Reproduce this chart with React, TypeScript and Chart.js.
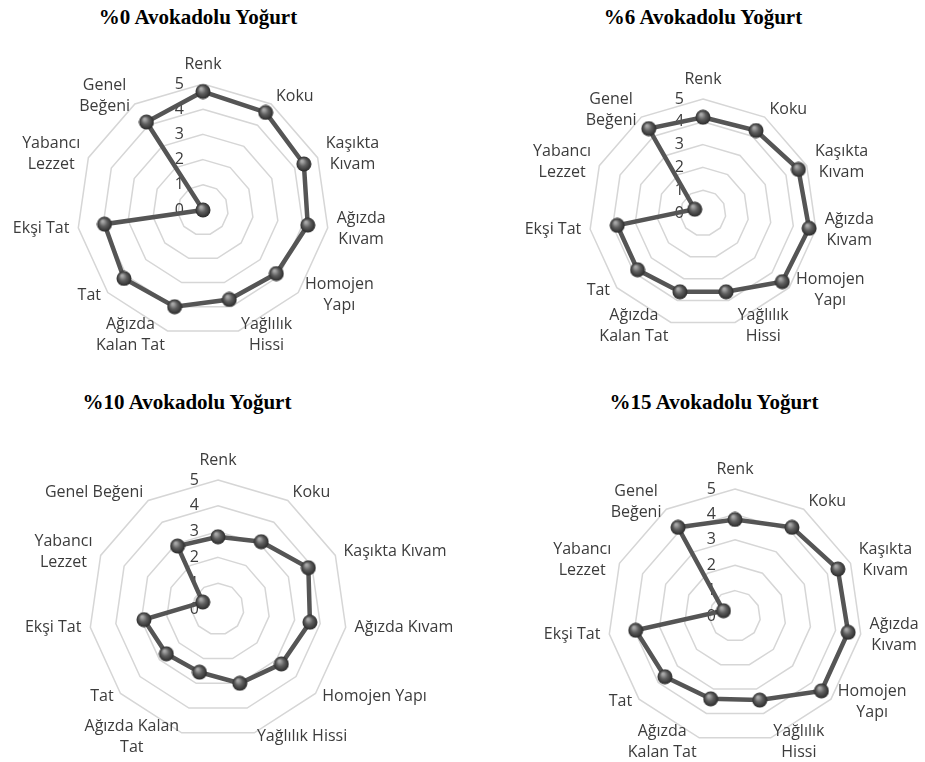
import { useEffect, useRef } from 'react';
import { Chart, registerables } from 'chart.js';

Chart.register(...registerables);

const criteria = [
  'Renk',
  'Koku',
  'Kaşıkta Kıvam',
  'Ağızda Kıvam',
  'Homojen Yapı',
  'Yağlılık Hissi',
  'Ağızda Kalan Tat',
  'Tat',
  'Ekşi Tat',
  'Yabancı Lezzet',
  'Genel Beğeni',
];

// how the axis names wrap in each panel
const wrappedNames = [
  ['Renk'],
  ['Koku'],
  ['Kaşıkta', 'Kıvam'],
  ['Ağızda', 'Kıvam'],
  ['Homojen', 'Yapı'],
  ['Yağlılık', 'Hissi'],
  ['Ağızda', 'Kalan Tat'],
  ['Tat'],
  ['Ekşi Tat'],
  ['Yabancı', 'Lezzet'],
  ['Genel', 'Beğeni'],
];
const wideNames = [
  ['Renk'],
  ['Koku'],
  ['Kaşıkta Kıvam'],
  ['Ağızda Kıvam'],
  ['Homojen Yapı'],
  ['Yağlılık Hissi'],
  ['Ağızda Kalan', 'Tat'],
  ['Tat'],
  ['Ekşi Tat'],
  ['Yabancı', 'Lezzet'],
  ['Genel Beğeni'],
];

const scoreTicks = [0, 1, 2, 3, 4, 5];

const avocado0 = [4.7, 4.6, 4.4, 4.2, 3.85, 3.7, 4.0, 4.15, 3.95, 0, 4.15];
const avocado6 = [4.2, 4.3, 4.6, 4.7, 4.6, 3.6, 3.6, 3.8, 3.8, 0.4, 4.4];
const avocado10 = [2.8, 3.1, 3.85, 3.6, 3.25, 3.0, 2.55, 2.65, 2.9, 0.65, 2.9];
const avocado15 = [3.8, 4.15, 4.45, 4.5, 4.5, 3.45, 3.4, 3.65, 3.95, 0.5, 4.15];

const TEXT = '#3c3c3c';
const FONT = '16px "Open Sans"';
const LINE_H = 21;

function makeSphere(size: number) {
  const c = document.createElement('canvas');
  c.width = size;
  c.height = size;
  const g = c.getContext('2d')!;
  const r = size / 2 - 0.5;
  const grad = g.createRadialGradient(size * 0.38, size * 0.32, 1, size / 2, size / 2, r);
  grad.addColorStop(0, '#a8a8a8');
  grad.addColorStop(0.45, '#5e5e5e');
  grad.addColorStop(1, '#2a2a2a');
  g.fillStyle = grad;
  g.beginPath();
  g.arc(size / 2, size / 2, r, 0, Math.PI * 2);
  g.fill();
  return c;
}

interface PanelProps {
  values: number[];
  names: string[][];
  box: { x: number; y: number; w: number; h: number };
  cx: number;
  cy: number;
  r: number;
}

function RadarPanel({ values, names, box, cx, cy, r }: PanelProps) {
  const canvasRef = useRef<HTMLCanvasElement>(null);

  useEffect(() => {
    if (!canvasRef.current) return;
    const sphere = makeSphere(16);

    const axisText = {
      id: 'axisText',
      beforeDatasetsDraw(chart: any) {
        const scale = chart.scales.r;
        const ctx = chart.ctx;
        ctx.save();
        ctx.font = FONT;
        ctx.fillStyle = TEXT;
        ctx.textAlign = 'right';
        ctx.textBaseline = 'middle';
        scoreTicks.forEach((t) => {
          const y = scale.yCenter - scale.getDistanceFromCenterForValue(t);
          ctx.fillText(String(t), scale.xCenter - 19, y);
        });
        ctx.restore();
      },
      afterDraw(chart: any) {
        const scale = chart.scales.r;
        const ctx = chart.ctx;
        ctx.save();
        ctx.font = FONT;
        ctx.fillStyle = TEXT;
        ctx.textAlign = 'center';
        ctx.textBaseline = 'middle';
        names.forEach((lines, i) => {
          const deg = Math.round((scale.getIndexAngle(i) * 180) / Math.PI) % 360;
          const lower = deg > 90 && deg < 270;
          const px = scale.getPointPosition(i, scale.drawingArea + 9).x;
          const py = scale.getPointPosition(i, scale.drawingArea + (lower ? 4 : 9)).y;
          const w = Math.max(...lines.map((l) => ctx.measureText(l).width));
          const h = lines.length * LINE_H;
          let left = px - w / 2;
          if (deg > 0 && deg < 180) left = px;
          else if (deg > 180) left = px - w;
          let top = py - h / 2;
          if (deg === 0) top = py - h;
          else if (deg === 180) top = py;
          lines.forEach((l, k) => ctx.fillText(l, left + w / 2, top + LINE_H * (k + 0.5)));
        });
        ctx.restore();
      },
    };

    const chart = new Chart(canvasRef.current, {
      type: 'radar',
      data: {
        labels: criteria,
        datasets: [
          {
            data: values,
            borderColor: '#555555',
            borderWidth: 4.5,
            pointStyle: sphere as any,
            pointRadius: 8,
            fill: false,
            tension: 0,
          },
        ],
      },
      options: {
        responsive: false,
        animation: false,
        layout: {
          padding: {
            left: cx - r - box.x,
            top: cy - r - box.y,
            right: box.x + box.w - cx - r,
            bottom: box.y + box.h - cy - r,
          },
        },
        plugins: {
          legend: { display: false },
          tooltip: { enabled: false },
        },
        scales: {
          r: {
            min: 0,
            max: 5,
            ticks: { display: false, stepSize: 1 },
            pointLabels: { display: false },
            angleLines: { display: false },
            grid: { color: '#d6d6d6', lineWidth: 1.5 },
          },
        },
      },
      plugins: [axisText],
    });

    return () => chart.destroy();
  }, [values, names, box, cx, cy, r]);

  return (
    <canvas
      ref={canvasRef}
      width={box.w}
      height={box.h}
      style={{ position: 'absolute', left: box.x, top: box.y, width: box.w, height: box.h }}
    />
  );
}

const panels = [
  { title: '%0 Avokadolu Yoğurt', tx: 198, ty: 17, values: avocado0, names: wrappedNames, box: { x: 0, y: 40, w: 460, h: 335 }, cx: 203, cy: 210, r: 126 },
  { title: '%6 Avokadolu Yoğurt', tx: 703, ty: 17, values: avocado6, names: wrappedNames, box: { x: 460, y: 40, w: 465, h: 335 }, cx: 703, cy: 213, r: 114 },
  { title: '%10 Avokadolu Yoğurt', tx: 187, ty: 402, values: avocado10, names: wideNames, box: { x: 0, y: 420, w: 460, h: 342 }, cx: 218, cy: 609, r: 129 },
  { title: '%15 Avokadolu Yoğurt', tx: 714, ty: 402, values: avocado15, names: wrappedNames, box: { x: 460, y: 420, w: 465, h: 342 }, cx: 735, cy: 616, r: 127 },
];

export default function App() {
  return (
    <div style={{ position: 'absolute', left: 0, top: 0, width: 925, height: 762, background: '#fff', overflow: 'hidden' }}>
      {panels.map((p) => (
        <div key={p.title}>
          <div
            style={{
              position: 'absolute',
              left: p.tx - 150,
              top: p.ty - 12,
              width: 300,
              height: 24,
              lineHeight: '24px',
              textAlign: 'center',
              fontFamily: '"Liberation Serif", serif',
              fontWeight: 'bold',
              fontSize: 21,
              color: '#000',
              whiteSpace: 'nowrap',
            }}
          >
            {p.title}
          </div>
          <RadarPanel values={p.values} names={p.names} box={p.box} cx={p.cx} cy={p.cy} r={p.r} />
        </div>
      ))}
    </div>
  );
}
